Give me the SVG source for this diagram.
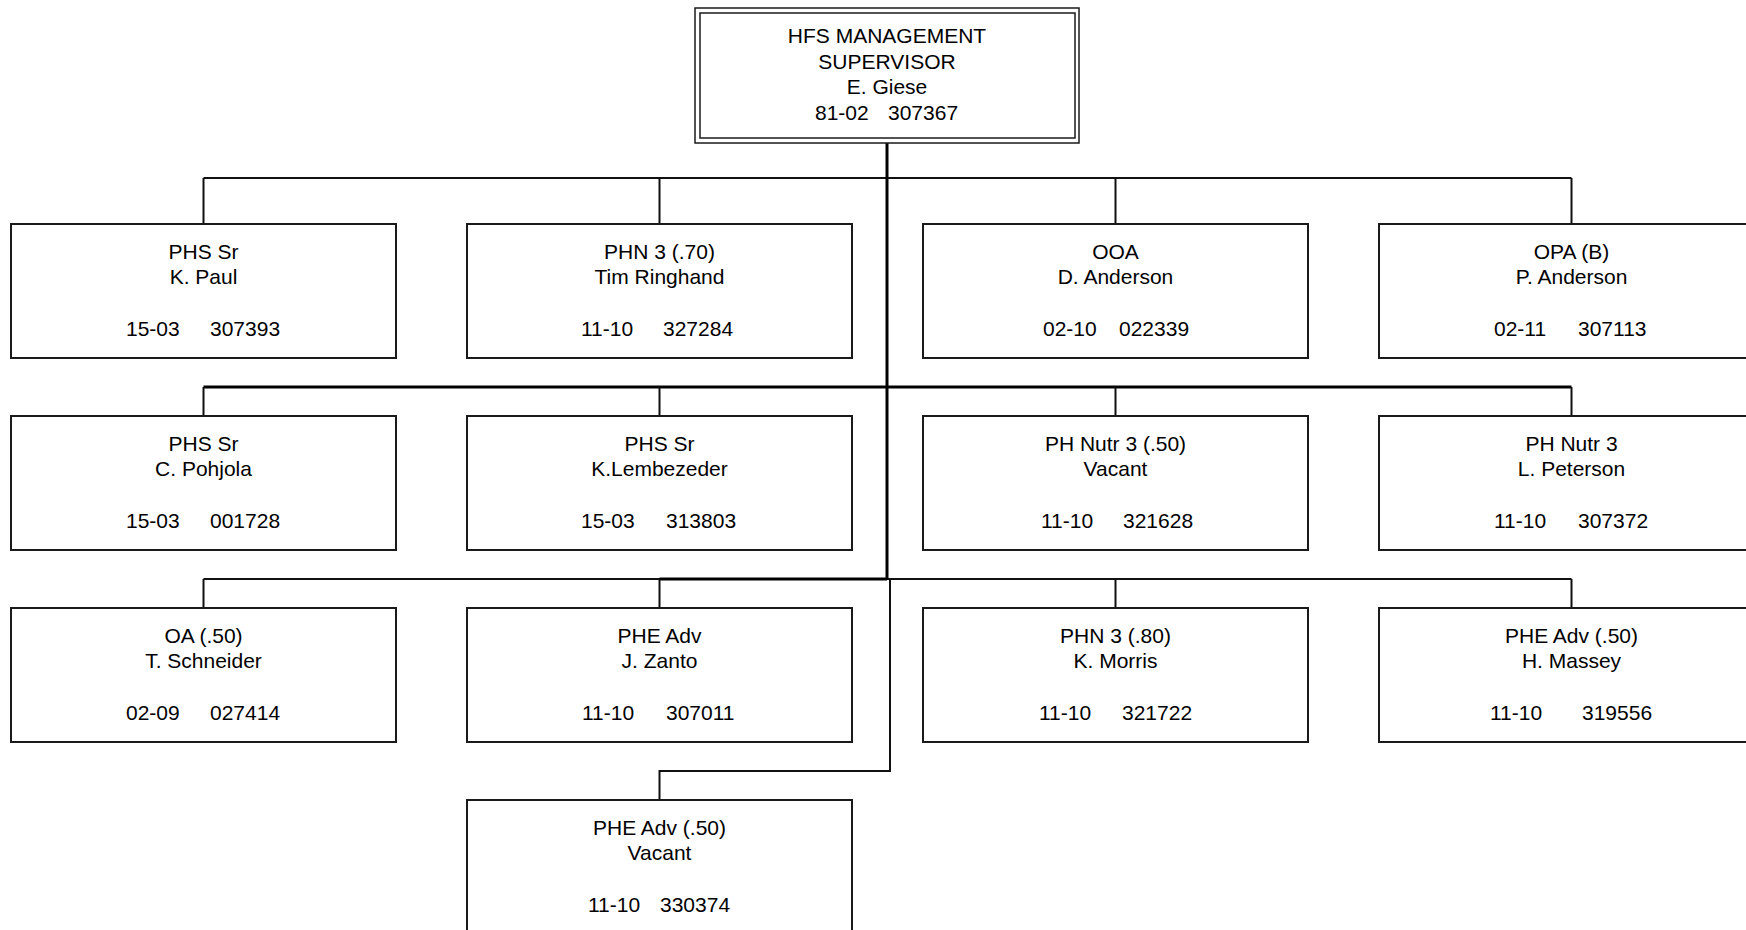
<svg xmlns="http://www.w3.org/2000/svg" width="1746" height="930" viewBox="0 0 1746 930">
<style>
.bg{fill:#fff}
.box{fill:#fff;stroke:#1a1a1a;stroke-width:2}
.dbl{fill:none;stroke:#1a1a1a;stroke-width:1.5}
.t{font-family:"Liberation Sans",Arial,sans-serif;font-size:21px;fill:#000;text-anchor:middle}
.n{font-family:"Liberation Sans",Arial,sans-serif;font-size:21px;fill:#000;text-anchor:start}
.ln{fill:none;stroke:#111;stroke-width:2}
.thk{fill:none;stroke:#000;stroke-width:3}
</style>
<rect class="bg" x="0" y="0" width="1746" height="930"/>
<g id="connectors">
<path class="ln" d="M203.5,178H1571.5M203.5,178V224M659.5,178V224M1115.5,178V224M1571.5,178V224"/>
<path class="thk" d="M203.5,387H1571.5"/>
<path class="ln" d="M203.5,387V416M659.5,387V416M1115.5,387V416M1571.5,387V416"/>
<path class="ln" d="M203.5,579H1571.5M203.5,579V608M659.5,579V608M1115.5,579V608M1571.5,579V608"/>
<path class="thk" d="M659.5,579H887"/>
<path class="thk" d="M887,143V580"/>
<path class="ln" d="M890,579V771H659.5V800"/>
</g>
<g id="n0">
<rect class="dbl" x="695" y="8" width="384" height="135"/>
<rect class="dbl" x="700" y="13" width="375" height="125"/>
<text class="t" x="887" y="43">HFS MANAGEMENT</text>
<text class="t" x="887" y="69">SUPERVISOR</text>
<text class="t" x="887" y="94">E. Giese</text>
<text class="n" y="120"><tspan x="815">81-02</tspan><tspan x="888">307367</tspan></text>
</g>
<g id="n1">
<rect class="box" x="11" y="224" width="385" height="134"/>
<text class="t" x="203.5" y="259">PHS Sr</text>
<text class="t" x="203.5" y="284">K. Paul</text>
<text class="n" y="336"><tspan x="126">15-03</tspan><tspan x="210">307393</tspan></text>
</g>
<g id="n2">
<rect class="box" x="467" y="224" width="385" height="134"/>
<text class="t" x="659.5" y="259">PHN 3 (.70)</text>
<text class="t" x="659.5" y="284">Tim Ringhand</text>
<text class="n" y="336"><tspan x="581">11-10</tspan><tspan x="663">327284</tspan></text>
</g>
<g id="n3">
<rect class="box" x="923" y="224" width="385" height="134"/>
<text class="t" x="1115.5" y="259">OOA</text>
<text class="t" x="1115.5" y="284">D. Anderson</text>
<text class="n" y="336"><tspan x="1043">02-10</tspan><tspan x="1119">022339</tspan></text>
</g>
<g id="n4">
<rect class="box" x="1379" y="224" width="385" height="134"/>
<text class="t" x="1571.5" y="259">OPA (B)</text>
<text class="t" x="1571.5" y="284">P. Anderson</text>
<text class="n" y="336"><tspan x="1494">02-11</tspan><tspan x="1578">307113</tspan></text>
</g>
<g id="n5">
<rect class="box" x="11" y="416" width="385" height="134"/>
<text class="t" x="203.5" y="451">PHS Sr</text>
<text class="t" x="203.5" y="476">C. Pohjola</text>
<text class="n" y="528"><tspan x="126">15-03</tspan><tspan x="210">001728</tspan></text>
</g>
<g id="n6">
<rect class="box" x="467" y="416" width="385" height="134"/>
<text class="t" x="659.5" y="451">PHS Sr</text>
<text class="t" x="659.5" y="476">K.Lembezeder</text>
<text class="n" y="528"><tspan x="581">15-03</tspan><tspan x="666">313803</tspan></text>
</g>
<g id="n7">
<rect class="box" x="923" y="416" width="385" height="134"/>
<text class="t" x="1115.5" y="451">PH Nutr 3 (.50)</text>
<text class="t" x="1115.5" y="476">Vacant</text>
<text class="n" y="528"><tspan x="1041">11-10</tspan><tspan x="1123">321628</tspan></text>
</g>
<g id="n8">
<rect class="box" x="1379" y="416" width="385" height="134"/>
<text class="t" x="1571.5" y="451">PH Nutr 3</text>
<text class="t" x="1571.5" y="476">L. Peterson</text>
<text class="n" y="528"><tspan x="1494">11-10</tspan><tspan x="1578">307372</tspan></text>
</g>
<g id="n9">
<rect class="box" x="11" y="608" width="385" height="134"/>
<text class="t" x="203.5" y="643">OA (.50)</text>
<text class="t" x="203.5" y="668">T. Schneider</text>
<text class="n" y="720"><tspan x="126">02-09</tspan><tspan x="210">027414</tspan></text>
</g>
<g id="n10">
<rect class="box" x="467" y="608" width="385" height="134"/>
<text class="t" x="659.5" y="643">PHE Adv</text>
<text class="t" x="659.5" y="668">J. Zanto</text>
<text class="n" y="720"><tspan x="582">11-10</tspan><tspan x="666">307011</tspan></text>
</g>
<g id="n11">
<rect class="box" x="923" y="608" width="385" height="134"/>
<text class="t" x="1115.5" y="643">PHN 3 (.80)</text>
<text class="t" x="1115.5" y="668">K. Morris</text>
<text class="n" y="720"><tspan x="1039">11-10</tspan><tspan x="1122">321722</tspan></text>
</g>
<g id="n12">
<rect class="box" x="1379" y="608" width="385" height="134"/>
<text class="t" x="1571.5" y="643">PHE Adv (.50)</text>
<text class="t" x="1571.5" y="668">H. Massey</text>
<text class="n" y="720"><tspan x="1490">11-10</tspan><tspan x="1582">319556</tspan></text>
</g>
<g id="n13">
<rect class="box" x="467" y="800" width="385" height="134"/>
<text class="t" x="659.5" y="835">PHE Adv (.50)</text>
<text class="t" x="659.5" y="860">Vacant</text>
<text class="n" y="912"><tspan x="588">11-10</tspan><tspan x="660">330374</tspan></text>
</g>
</svg>
